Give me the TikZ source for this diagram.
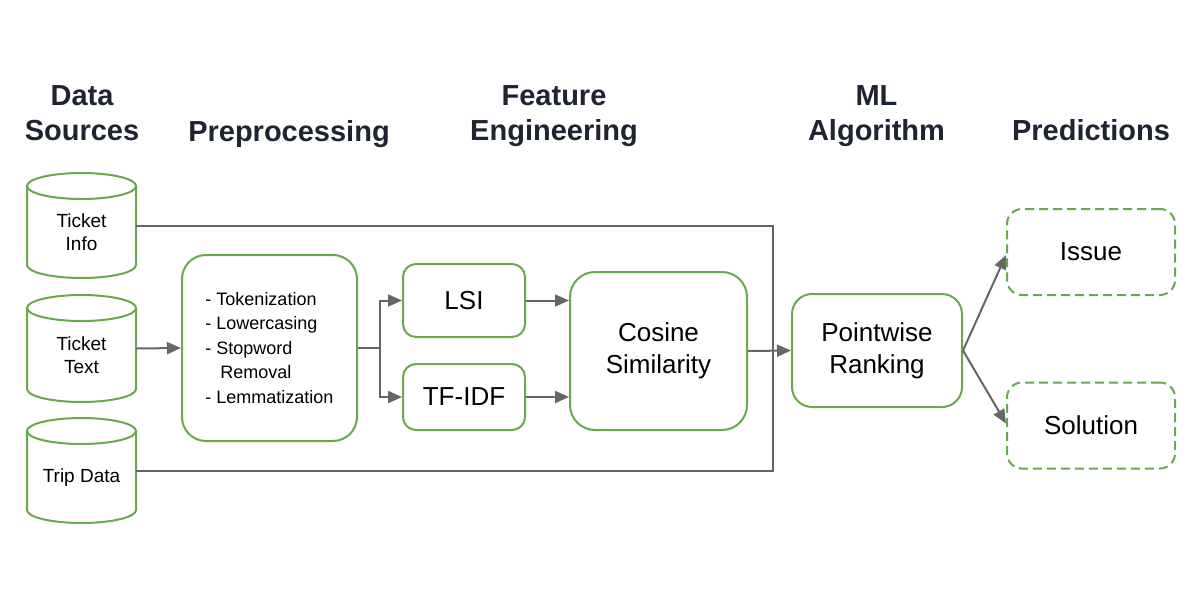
\documentclass[tikz,border=0pt]{standalone}
\usepackage{fontspec}
\setmainfont{Liberation Sans}
\usetikzlibrary{arrows.meta}
\definecolor{grn}{HTML}{6AA84F}
\definecolor{gry}{HTML}{666666}
\definecolor{hdr}{HTML}{1F2433}
\newcommand\dbcyl[4]{%
  \draw[cyl] (81.5,#2+13) ellipse [x radius=54.5, y radius=13];
  \draw[cyl] (27,#2+13) -- (27,#3-13) arc[start angle=180, end angle=0, x radius=54.5, y radius=13] -- (136,#2+13);
  \node[cylbody] (#1) at (81.5,{(#2+#3)/2}) {};
  \node[cyltxt] at ([yshift=-7pt]#1.center) {#4};
}
\begin{document}
\begin{tikzpicture}[x=1pt,y=-1pt,
  box/.style={draw=grn, line width=2pt, inner sep=0pt, align=center, font=\fontsize{26}{32}\selectfont},
  pred/.style={box, dash pattern=on 9pt off 5pt, rounded corners=15pt, minimum width=168pt, minimum height=86pt},
  conn/.style={draw=gry, line width=2pt, -{Triangle[length=14pt,width=12pt]}},
  bus/.style={draw=gry, line width=2pt},
  hd/.style={font=\fontsize{29}{35}\selectfont\bfseries, text=hdr, align=center, inner sep=0pt},
  cyltxt/.style={font=\fontsize{19}{23}\selectfont, align=center, inner sep=0pt},
  cylbody/.style={minimum width=109pt, minimum height=80pt, inner sep=0pt},
  cyl/.style={draw=grn, line width=2pt}
]
\useasboundingbox[fill=white] (0,0) rectangle (1200,600);

% headers
\node[hd] (h1) at (82,113) {Data\\Sources};
\node[hd] (h2) at (289,133.6) {Preprocessing};
\node[hd] (h3) at (554,116.2) {Feature\\Engineering};
\node[hd] (h4) at (876.5,116.2) {ML\\Algorithm};
\node[hd] (h5) at (1091,130.6) {Predictions};

% data sources
\dbcyl{tinfo}{173}{278}{Ticket\\Info}
\dbcyl{ttext}{295}{402}{Ticket\\Text}
\dbcyl{trip}{418}{523}{Trip Data}

% boxes
\node[box, rounded corners=24pt, minimum width=175pt, minimum height=186pt,
      align=left, font=\fontsize{18}{24.5}\selectfont] (pre) at (269.5,348)
  {- Tokenization\\- Lowercasing\\- Stopword\\\hspace*{15pt}Removal\\- Lemmatization};
\node[box, rounded corners=13pt, minimum width=122pt, minimum height=73pt] (lsi) at (464,300.5) {LSI};
\node[box, rounded corners=13pt, minimum width=122pt, minimum height=66pt] (tfidf) at (464,397) {TF-IDF};
\node[box, rounded corners=25pt, minimum width=177pt, minimum height=158pt] (cos) at (658.5,351) {Cosine\\Similarity};
\node[box, rounded corners=20pt, minimum width=170pt, minimum height=113pt] (pw) at (877,350.5) {Pointwise\\Ranking};
\node[pred] (issue) at (1091,252) {Issue};
\node[pred] (sol) at (1091,425.5) {Solution};

% connectors
\coordinate (split) at (380,348);
\coordinate (bus) at (773,351);
\draw[bus] (tinfo.east) -| (bus) |- (trip.east);
\draw[conn] (ttext.east) -- (pre.west);
\draw[bus] (pre.east) -- (split);
\draw[conn] (split) |- (lsi.west);
\draw[conn] (split) |- (tfidf.west);
\draw[conn] (lsi.east) -- (lsi.east -| cos.west);
\draw[conn] (tfidf.east) -- (tfidf.east -| cos.west);
\draw[conn] (cos.east) -- (pw.west);
\draw[conn] (pw.east) -- ([yshift=-3pt]issue.west);
\draw[conn] (pw.east) -- ([yshift=2pt]sol.west);
\end{tikzpicture}
\end{document}
